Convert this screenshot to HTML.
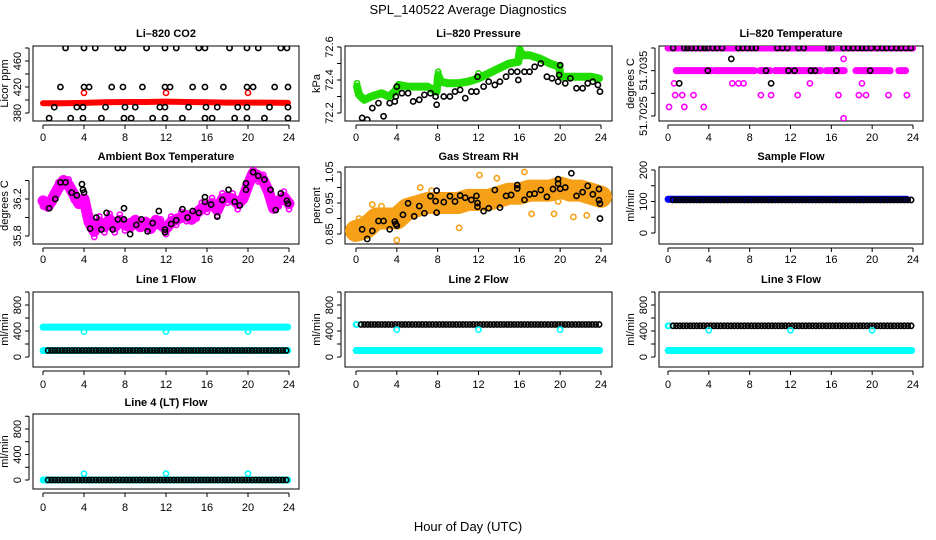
<!DOCTYPE html>
<html><head><meta charset="utf-8">
<style>
html,body{margin:0;padding:0;background:#fff;}
svg{display:block;font-family:"Liberation Sans",Arial,sans-serif;}
</style></head>
<body>
<svg id="chart" width="936" height="540" viewBox="0 0 936 540" xmlns="http://www.w3.org/2000/svg">
<text x="468" y="14" text-anchor="middle" font-size="13">SPL_140522  Average Diagnostics</text>
<text x="468" y="531" text-anchor="middle" font-size="13">Hour of Day (UTC)</text>
</svg>
<script>
// ---------- data ----------
const xTicks = [0,4,8,12,16,20,24];
// CO2
const co2Hours480 = [2.2,4,5.1,7.3,7.8,10.1,11.9,13,15.2,15.8,18.2,19.9,21,23.2,23.8];
const co2Hours420 = [1.7,4,4.5,6.7,7.8,9.7,11.9,12.4,14.6,15.8,17.6,19.9,20.5,22.6,23.9];
const co2Hours390 = [1.1,3.3,3.9,6.1,8,9,11.4,11.9,14.2,15.9,17,19,19.9,22.1,23.9];
const co2Hours372 = [0.6,2.7,3.9,5.7,7.9,8.6,10.7,11.9,13.6,15.8,16.5,18.7,19.9,21.6,23.9];
const co2RedHours = [0,2,4,6,8,10,12,14,16,18,20,22,23.9];
const co2RedVals = [395,395,395.5,396.5,397,397,397.5,397,396.5,396,396,396,395.5];
const co2RedDipHours = [4,12,20];
const co2RedDipVals = [411,411,411];
// Pressure
const presBlackHours = [0.6,1.1,1.6,2.2,2.7,3.3,3.8,3.9,4,4.5,5.1,5.6,6.2,6.7,7.3,7.8,7.9,8.6,9.2,9.7,10.2,10.7,11.3,11.8,11.9,12.5,13,13.6,14.1,14.7,15.2,15.8,15.9,16.5,17,17.5,18.1,18.7,19.2,19.8,19.9,20,20.5,21,21.6,22.2,22.7,23.2,23.7,23.9];
const presBlackVals = [72.17,72.16,72.23,72.26,72.18,72.26,72.27,72.3,72.36,72.32,72.32,72.27,72.28,72.31,72.32,72.3,72.25,72.3,72.3,72.33,72.34,72.29,72.33,72.33,72.42,72.36,72.39,72.37,72.39,72.42,72.45,72.45,72.4,72.45,72.45,72.48,72.5,72.42,72.41,72.39,72.43,72.49,72.38,72.41,72.35,72.35,72.38,72.39,72.37,72.33];
const presGreenHours = [0.1,0.3,0.8,1.5,2.5,3.2,3.8,4.2,5,6,7,7.9,8.05,8.3,9,10,11,12,13,14,15,15.9,16.05,16.3,17,18,19,19.9,20.05,21,22,23,23.8];
const presGreenVals = [72.36,72.31,72.28,72.3,72.32,72.3,72.33,72.37,72.36,72.36,72.36,72.33,72.43,72.39,72.38,72.38,72.39,72.41,72.44,72.47,72.5,72.51,72.58,72.55,72.55,72.53,72.5,72.48,72.42,72.42,72.42,72.42,72.41];
// Li-820 temperature
const tempTopBlackHours = [0.5,1.6,1.9,2.3,2.7,3.2,3.6,3.9,4.4,4.8,5.3,6.9,7.3,7.8,8.2,8.6,10.7,11.2,11.7,12.8,13.3,15.7,16,17.2,17.7,18.1,18.6,19,19.4,19.9,20.5,21,21.4,21.9,22.4,22.8,23.3,23.8];
const tempMidBlackHours = [3.9,9.6,11.8,12.4,14,14.4,16.5,19.8];
const tempOtherBlackHours = [6.2,1.1,10.1];
const tempOtherBlackVals = [51.70376,51.70322,51.70322];
const tempMagHours = [0.6,6.3,6.9,7.4,13.9,19,0.7,1.4,2.5,9.1,10.1,12.7,16.7,18.7,19.4,21.6,23.4,0.1,1.6,3.5,17.2,17.2];
const tempMagVals = [51.70322,51.70322,51.70322,51.70322,51.70322,51.70322,51.70296,51.70296,51.70296,51.70296,51.70296,51.70296,51.70296,51.70296,51.70296,51.70296,51.70296,51.7027,51.7027,51.7027,51.70376,51.70245];
const tempMidStart = [0.8,4.6,9,10.5,15.5,18.4,22.6];
const tempMidEnd = [4.3,8.5,10,15,17.3,21.8,23.3];
// Ambient box
const boxBlackHours = [0.6,1.2,1.7,2.2,2.8,3.3,3.8,3.9,4,4.6,5.2,5.7,6.2,6.8,7.3,7.9,7.9,8.5,9.1,9.6,10.2,10.7,11.3,11.9,11.9,12.5,13,13.6,14.1,14.6,15.2,15.8,15.8,16.4,17,17.5,18.1,18.7,19.2,19.8,19.8,20.5,21,21.6,22.2,22.7,23.2,23.8,23.9];
const boxBlackVals = [36.1,36.2,36.38,36.38,36.27,36.24,36.36,36.3,36.27,35.88,36.0,35.87,36.05,35.87,35.98,35.98,36.1,35.82,35.92,35.98,35.85,35.94,36.07,35.84,35.87,35.93,35.97,36.09,36.0,36.07,36.05,36.22,36.17,36.14,36.01,36.19,36.3,36.17,36.13,36.37,36.3,36.49,36.45,36.41,36.3,36.08,36.26,36.18,36.15];
const boxMagHours = [0,0.5,1,1.5,2,2.5,3,3.5,4,4.5,5,5.5,6,6.5,7,7.5,8,8.5,9,9.5,10,10.5,11,11.5,12,12.5,13,13.5,14,14.5,15,15.5,16,16.5,17,17.5,18,18.5,19,19.5,20,20.5,21,21.5,22,22.5,23,23.5,24];
const boxMagVals = [36.18,36.12,36.22,36.32,36.4,36.35,36.25,36.15,36.2,35.95,35.85,35.95,35.9,35.98,35.9,35.97,35.92,35.9,35.97,35.9,35.95,35.88,35.97,35.92,35.88,35.95,35.98,36.0,36.02,35.98,36.05,36.1,36.12,36.15,36.08,36.2,36.22,36.2,36.15,36.2,36.35,36.48,36.45,36.4,36.28,36.1,36.18,36.22,36.15];
// Gas stream RH
const rhBlackHours = [0.6,1.1,1.6,2.2,2.7,3.3,3.8,3.9,4,4.6,5.1,5.7,6.2,6.7,7.3,7.8,7.9,7.9,8.6,9.2,9.7,10.2,10.7,11.3,11.8,11.9,11.9,12.5,13,13.6,14.1,14.7,15.2,15.8,15.8,16.5,17,17.5,18.1,18.7,19.3,19.8,19.8,20,20.5,21.1,21.6,22.2,22.7,23.2,23.8,23.8,23.9,23.9];
const rhBlackVals = [0.865,0.834,0.86,0.892,0.892,0.865,0.89,0.882,0.877,0.912,0.949,0.907,0.94,0.917,0.972,0.956,0.99,0.919,0.953,0.972,0.955,0.974,0.967,0.96,0.973,0.95,0.938,0.924,0.933,0.992,0.935,0.973,0.976,1.008,0.997,0.96,0.978,0.98,0.992,0.97,0.995,1.013,1.027,0.996,1.0,1.046,0.973,0.985,1.005,0.978,0.995,0.959,0.948,0.9];
const rhBandHours = [0,1,2,3,4,5,6,7,8,9,10,11,12,13,14,15,16,17,18,19,20,21,22,23,24];
const rhBandVals = [0.86,0.87,0.9,0.9,0.9,0.93,0.94,0.95,0.95,0.95,0.95,0.96,0.96,0.96,0.97,0.98,0.98,0.99,0.99,0.99,1.0,0.99,0.99,0.98,0.97];
const rhOutHours = [0.3,1.6,2.5,4,6.3,7.4,10.1,12.1,13.8,16.5,17.2,19.4,19.8,21.3,22.6,0.1];
const rhOutVals = [0.9,0.945,0.94,0.83,1.0,0.99,0.87,1.04,1.03,1.05,0.915,0.915,0.955,0.905,0.91,0.85];
// Sample flow
const sampleVal = [105];
// Line flows
const dipHours = [4,12,20];
const line1Cyan = [460,100];
const line1Black = [100];
const line1Dip = [390];
const line2Cyan = [100];
const line2Black = [500];
const line2Dip = [420];
const line3Cyan = [100];
const line3Black = [480];
const line3Dip = [410];
const line4Cyan = [0];
const line4Black = [0];
const line4Dip = [100];

// ---------- drawing ----------
const svg = document.getElementById('chart');
const NS = 'http://www.w3.org/2000/svg';
function mk(tag, attrs, parent){
  const e = document.createElementNS(NS, tag);
  for (const k in attrs) e.setAttribute(k, attrs[k]);
  (parent||svg).appendChild(e);
  return e;
}
const cols = [
  {bl:33, br:299, x0:43, x24:289},
  {bl:345, br:612, x0:356, x24:601},
  {bl:659, br:923, x0:668, x24:913}
];
const rows = [
  {bt:46, bb:121, title:33, tick:137},
  {bt:167, bb:244, title:156, tick:259},
  {bt:292, bb:367, title:279, tick:384},
  {bt:414, bb:489, title:402, tick:507}
];
function panel(name, c, r, title, ylabel, v1, p1, v2, p2, ticks, labels){
  const C = cols[c], R = rows[r];
  const g = mk('g', {});
  
  
  const xs = h => C.x0 + (C.x24 - C.x0) * h / 24;
  const ys = v => p1 + (v - v1) * (p2 - p1) / (v2 - v1);
  const t = mk('text', {x:(C.bl+C.br)/2, y:R.title+4, 'text-anchor':'middle', 'font-size':11, 'font-weight':'bold'}, g);
  t.textContent = title;
  
  
  const box = mk('rect', {x:C.bl, y:R.bt, width:C.br-C.bl, height:R.bb-R.bt, fill:'none', stroke:'#000', 'stroke-width':1}, g);
  
  
  const ax = mk('g', {}, g);
  
  
  mk('line', {x1:C.x0, x2:C.x24, y1:R.bb+4, y2:R.bb+4, stroke:'#000'}, ax);
  xTicks.forEach(h => {
    mk('line', {x1:xs(h), x2:xs(h), y1:R.bb+4, y2:R.bb+8, stroke:'#000'}, ax);
    const l = mk('text', {x:xs(h), y:R.tick+4, 'text-anchor':'middle', 'font-size':11}, ax);
    l.textContent = h;
  });
  const ay = mk('g', {}, g);
  
  
  const yt = ticks.map(ys);
  mk('line', {x1:C.bl-4, x2:C.bl-4, y1:Math.min(...yt), y2:Math.max(...yt), stroke:'#000'}, ay);
  ticks.forEach(v => mk('line', {x1:C.bl-8, x2:C.bl-4, y1:ys(v), y2:ys(v), stroke:'#000'}, ay));
  labels.forEach(v => {
    const lx = C.bl - 12, ly = ys(v);
    const l = mk('text', {x:lx, y:ly, 'text-anchor':'middle', 'font-size':11, transform:`rotate(-90 ${lx} ${ly})`}, ay);
    l.textContent = v;
  });
  const yl = mk('text', {x:C.bl-25, y:(R.bt+R.bb)/2, 'text-anchor':'middle', 'font-size':11, transform:`rotate(-90 ${C.bl-25} ${(R.bt+R.bb)/2})`}, g);
  yl.textContent = ylabel;
  
  
  const clip = 'clip-' + name;
  const cp = mk('clipPath', {id:clip}, g);
  mk('rect', {x:C.bl, y:R.bt, width:C.br-C.bl, height:R.bb-R.bt}, cp);
  const marks = mk('g', {'clip-path':`url(#${clip})`}, g);
  return {xs, ys, g:marks};
}
function pts(P, hours, vals, color, name, r){
  const grp = mk('g', {}, P.g);
  
  
  hours.forEach((h, i) => {
    mk('circle', {cx:P.xs(h), cy:P.ys(vals[i]), r:r||2.6, fill:'none', stroke:color, 'stroke-width':1.6}, grp);
  });
}
function line(P, hours, vals, color, w, name){
  const d = hours.map((h, i) => (i ? 'L' : 'M') + P.xs(h).toFixed(1) + ' ' + P.ys(vals[i]).toFixed(1)).join(' ');
  const p = mk('path', {d, fill:'none', stroke:color, 'stroke-width':w, 'stroke-linejoin':'round', 'stroke-linecap':'round'}, P.g);
  
  
}
function level(P, h0, h1, v, color, name, fill){
  const grp = mk('g', {}, P.g);
  
  
  const a = P.xs(h0), b = P.xs(h1), y = P.ys(v);
  if (fill) mk('rect', {x:a-3, y:y-3.5, width:b-a+6, height:7, rx:3, fill:color}, grp);
  for (let x = a; x <= b + 0.01; x += 3.4) {
    mk('circle', {cx:x, cy:y, r:2.6, fill:'none', stroke:color, 'stroke-width':1.6}, grp);
  }
}

// Panel 1: CO2
let P = panel('co2', 0, 0, 'Li\u2013820 CO2', 'Licor ppm', 380, 113, 460, 61, [380,400,420,440,460,480], [380,420,460]);
line(P, co2RedHours, co2RedVals, '#ff0000', 6, 'co2-red-series');
pts(P, co2RedDipHours, co2RedDipVals, '#ff0000', 'co2-red-outliers');
pts(P, co2Hours480, co2Hours480.map(() => 480), '#000', 'co2-points-480');
pts(P, co2Hours420, co2Hours420.map(() => 420), '#000', 'co2-points-420');
pts(P, co2Hours390, co2Hours390.map(() => 389), '#000', 'co2-points-389');
pts(P, co2Hours372, co2Hours372.map(() => 372), '#000', 'co2-points-372');

// Panel 2: Pressure
P = panel('pressure', 1, 0, 'Li\u2013820 Pressure', 'kPa', 72.2, 113, 72.6, 47, [72.2,72.3,72.4,72.5,72.6], [72.2,72.4,72.6]);
line(P, presGreenHours, presGreenVals, '#22dd00', 8, 'pressure-green-series');
pts(P, [0.1,8.05,12,16.05], [72.38,72.45,72.44,72.6], '#22dd00', 'pressure-green-points');
pts(P, presBlackHours, presBlackVals, '#000', 'pressure-black-series');

// Panel 3: Li-820 Temperature
P = panel('li820-temp', 2, 0, 'Li\u2013820 Temperature', 'degrees C', 51.7025, 116, 51.704, 48, [51.7025,51.703,51.7035,51.704], [51.7025,51.7035]);
level(P, 0, 24, 51.704, '#ff00ff', 'temp-magenta-top-band', true);
tempMidStart.forEach((s, i) => level(P, s, tempMidEnd[i], 51.7035, '#ff00ff', 'temp-magenta-mid-band', true));
pts(P, tempMagHours, tempMagVals, '#ff00ff', 'temp-magenta-points');
pts(P, tempTopBlackHours, tempTopBlackHours.map(() => 51.704), '#000', 'temp-black-top');
pts(P, tempMidBlackHours, tempMidBlackHours.map(() => 51.7035), '#000', 'temp-black-mid');
pts(P, tempOtherBlackHours, tempOtherBlackVals, '#000', 'temp-black-other');

// Panel 4: Ambient Box
P = panel('ambient-box', 0, 1, 'Ambient Box Temperature', 'degrees C', 36.2, 199, 35.8, 236, [35.8,36.0,36.2,36.4], [35.8,36.2]);
line(P, boxMagHours, boxMagVals, '#ff00ff', 11, 'box-magenta-series');
pts(P, boxMagHours, boxMagVals.map((v, i) => v + (i % 2 ? 0.06 : -0.06)), '#ff00ff', 'box-magenta-points');
pts(P, boxBlackHours, boxBlackVals, '#000', 'box-black-series');

// Panel 5: RH
P = panel('gas-rh', 1, 1, 'Gas Stream RH', 'percent', 0.95, 203, 0.85, 234, [0.85,0.9,0.95,1.0,1.05], [0.85,0.95,1.05]);
line(P, rhBandHours, rhBandVals, '#f5a016', 22, 'rh-orange-band');
pts(P, rhOutHours, rhOutVals, '#f5a016', 'rh-orange-outliers');
pts(P, rhBlackHours, rhBlackVals, '#000', 'rh-black-series');

// Panel 6: Sample flow
P = panel('sample-flow', 2, 1, 'Sample Flow', 'ml/min', 0, 233, 200, 170, [0,50,100,150,200], [0,100,200]);
level(P, 0, 23.4, sampleVal[0] + 2, '#0000ff', 'sample-blue-band', true);
level(P, 0.5, 23.9, sampleVal[0], '#000', 'sample-black-band');

// Line flows
const flowTicks = [0,200,400,600,800,1000], flowLabels = [0,400,800];
P = panel('line1-flow', 0, 2, 'Line 1 Flow', 'ml/min', 0, 357, 800, 305, flowTicks, flowLabels);
level(P, 0, 23.9, line1Cyan[0], '#00ffff', 'line1-cyan-high', true);
level(P, 0, 23.9, line1Cyan[1], '#00ffff', 'line1-cyan-low', true);
level(P, 0.5, 23.9, line1Black[0], '#000', 'line1-black');
pts(P, dipHours, dipHours.map(() => line1Dip[0]), '#00ffff', 'line1-cyan-dips');

P = panel('line2-flow', 1, 2, 'Line 2 Flow', 'ml/min', 0, 357, 800, 305, flowTicks, flowLabels);
level(P, 0, 23.9, line2Cyan[0], '#00ffff', 'line2-cyan', true);
pts(P, [0, 0.1], [line2Black[0], line2Black[0]], '#00ffff', 'line2-cyan-start');
level(P, 0.5, 23.9, line2Black[0], '#000', 'line2-black');
pts(P, dipHours, dipHours.map(() => line2Dip[0]), '#00ffff', 'line2-cyan-dips');

P = panel('line3-flow', 2, 2, 'Line 3 Flow', 'ml/min', 0, 357, 800, 305, flowTicks, flowLabels);
level(P, 0, 23.9, line3Cyan[0], '#00ffff', 'line3-cyan', true);
pts(P, [0, 0.1], [line3Black[0], line3Black[0]], '#00ffff', 'line3-cyan-start');
level(P, 0.5, 23.9, line3Black[0], '#000', 'line3-black');
pts(P, dipHours, dipHours.map(() => line3Dip[0]), '#00ffff', 'line3-cyan-dips');

P = panel('line4-flow', 0, 3, 'Line 4 (LT) Flow', 'ml/min', 0, 480, 800, 429, flowTicks, flowLabels);
level(P, 0, 23.9, line4Cyan[0], '#00ffff', 'line4-cyan', true);
level(P, 0.5, 23.9, line4Black[0], '#000', 'line4-black');
pts(P, dipHours, dipHours.map(() => line4Dip[0]), '#00ffff', 'line4-cyan-spikes');
</script>
</body></html>
